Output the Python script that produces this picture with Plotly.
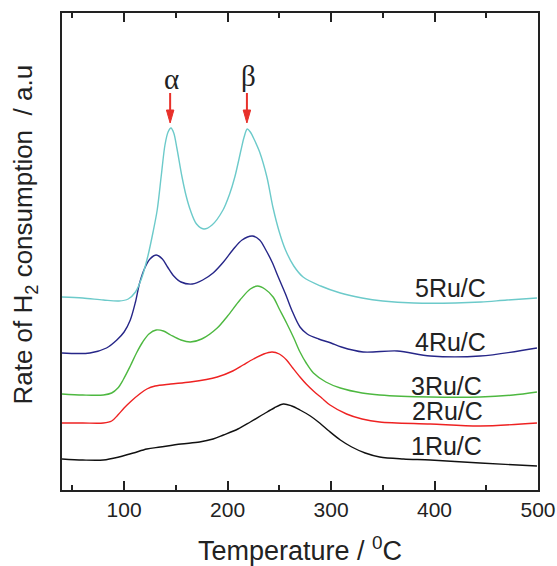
import plotly.graph_objects as go

# Temperature (°C) / H2 consumption rate (a.u.)
t_5ru = [40, 60, 80, 95, 104, 111, 117, 123, 128, 132, 136, 139.5, 142.5, 145.3, 148, 151, 156, 160, 164, 170, 177, 185, 195.6, 202, 207, 213, 216, 219, 222, 226, 231, 238, 244, 250, 256, 264, 273, 290, 309, 330, 350, 380, 420, 445, 470, 499]
y_5ru = [193, 192, 190, 189, 191, 198, 212, 234, 258, 280, 315, 345, 358, 362, 357, 342, 313, 294, 280, 266, 261, 265, 280, 296, 313, 340, 353, 361, 358, 350, 338, 313, 282, 258, 240, 224, 213, 204, 197, 192, 189, 187, 187, 188, 190, 192]

t_4ru = [40, 67, 83, 93, 100, 106, 111, 115, 120, 125, 131, 137, 142, 148, 155, 166, 176, 186, 196, 205, 214, 224, 231, 237, 243, 249, 256, 262, 270, 277, 288, 300, 310, 331, 364, 396, 444, 499]
y_4ru = [137, 137, 142, 150, 158, 170, 188, 207, 222, 231, 235, 231, 223, 214, 208, 206, 210, 217, 228, 240, 250, 254, 250, 240, 228, 213, 196, 180, 163, 156, 151, 147, 143, 138, 139, 134, 134, 142]

t_3ru = [40, 60, 80, 88, 94, 99, 106, 112, 118, 124, 131, 138, 145, 155, 164, 175, 190, 200, 212, 222, 229, 236, 244, 250, 257, 264, 270, 276, 283, 295, 309, 330, 347, 396, 444, 476, 499]
y_3ru = [96, 95, 95, 97, 102, 110, 124, 137, 148, 156, 160, 159, 155, 150, 148, 151, 162, 174, 190, 201, 204, 201, 193, 181, 167, 152, 138, 127, 117, 108, 102, 97, 95, 93, 93, 95, 98]

t_2ru = [40, 60, 80, 88, 94, 100, 107, 115, 122, 130, 145, 164, 190, 205, 215, 225, 235, 243, 250, 257, 263, 270, 276, 283, 291, 299, 315, 330, 347, 396, 444, 499]
y_2ru = [67, 67, 67, 69, 75, 82, 89, 96, 101, 104, 106, 108, 113, 119, 125, 131, 136, 138, 136, 130, 122, 113, 106, 99, 92, 85, 76, 71, 68, 66, 64, 67]

t_1ru = [40, 60, 80, 95, 109, 122, 135, 155, 173, 186, 196, 210, 222, 235, 245, 254, 262, 270, 280, 289, 298, 309, 320, 333, 347, 370, 396, 444, 499]
y_1ru = [31, 30, 30, 33, 37, 41, 43, 46, 48, 51, 55, 61, 68, 76, 82, 86, 84, 80, 74, 67, 59, 50, 43, 37, 33, 31, 30, 27, 24]

series = [
    ("1Ru/C", t_1ru, y_1ru, "#111111", 412, 44),
    ("2Ru/C", t_2ru, y_2ru, "#EE2222", 413, 79),
    ("3Ru/C", t_3ru, y_3ru, "#4DB840", 412, 104),
    ("4Ru/C", t_4ru, y_4ru, "#262688", 415.8, 148),
    ("5Ru/C", t_5ru, y_5ru, "#6CCACA", 415.8, 202),
]

peak_labels = ["α", "β"]
peak_t = [144.5, 218.7]
peak_y = [367, 367]

fig = go.Figure()
annotations = []
shapes = []
for name, t, y, color, lx, ly in series:
    fig.add_trace(go.Scatter(x=t, y=y, mode="lines", name=name,
                             line=dict(color=color, width=1.4, shape="spline", smoothing=0.9),
                             showlegend=False))
    annotations.append(dict(x=lx, y=ly, text=name, showarrow=False,
                            font=dict(family="Liberation Sans, Arial", size=25, color="#222222")))

arrow_red = "#E8302A"
for lab, px_, py_ in zip(peak_labels, peak_t, peak_y):
    shapes.append(dict(type="line", xref="x", yref="y", x0=px_, x1=px_, y0=py_ + 30, y1=py_ + 12,
                       line=dict(color=arrow_red, width=2)))
    shapes.append(dict(type="path", xref="x", yref="y",
                       path=f"M {px_ - 3.6} {py_ + 13} L {px_ + 3.6} {py_ + 13} L {px_} {py_} Z",
                       fillcolor=arrow_red, line=dict(color=arrow_red, width=1)))
    annotations.append(dict(x=px_ + 1.5, y=py_ + (44 if lab == "α" else 47), text=lab, showarrow=False,
                            font=dict(family="Liberation Serif, Times New Roman", size=29, color="#222222")))

# y-axis title, placed as rotated text (sits slightly above the plot centre in the reference)
annotations.append(dict(xref="paper", yref="paper", x=0, y=0.5356, xshift=-37,
                        xanchor="center", yanchor="middle", textangle=-90, showarrow=False,
                        text="Rate of H<sub>2</sub> consumption  / a.u",
                        font=dict(family="Liberation Sans, Arial", size=26, color="#222222")))

fig.update_layout(
    width=557, height=566,
    margin=dict(l=62, r=19, t=13, b=76),
    paper_bgcolor="white", plot_bgcolor="white",
    annotations=annotations, shapes=shapes,
    font=dict(family="Liberation Sans, Arial", color="#222222"),
)
fig.update_xaxes(
    range=[40, 500], tickvals=[100, 200, 300, 400, 500],
    ticks="inside", ticklen=9, tickwidth=2, tickcolor="#222222",
    minor=dict(tickvals=[50, 150, 250, 350, 450], ticks="inside", ticklen=5, tickwidth=2, tickcolor="#222222"),
    showline=True, linewidth=2, linecolor="#222222", mirror="ticks",
    showgrid=False, zeroline=False, automargin=False,
    tickfont=dict(size=21, color="#222222"),
    title=dict(text="Temperature / <sup>0</sup>C", font=dict(size=27, color="#222222"), standoff=22),
)
fig.update_yaxes(
    range=[0, 477], showticklabels=False, ticks="",
    showline=True, linewidth=2, linecolor="#222222", mirror=True,
    showgrid=False, zeroline=False, automargin=False,
)

fig.write_html("out.html", config={"displayModeBar": False},
               post_script="document.body.style.margin='0';document.body.style.padding='0';"
                           "document.documentElement.style.overflow='hidden';")
